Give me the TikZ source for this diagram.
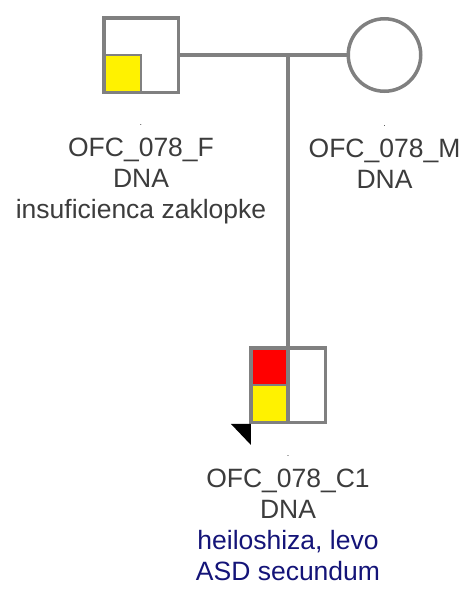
\documentclass[tikz,border=0pt]{standalone}
\usepackage{fontspec}
\setmainfont{Liberation Sans}
\usetikzlibrary{positioning}
\definecolor{pedgray}{RGB}{128,128,128}
\definecolor{txtgray}{RGB}{60,60,60}
\definecolor{dxblue}{RGB}{20,20,120}
\newcommand{\peddot}{{\fontsize{9}{9}\selectfont .}}
\tikzset{
  ped/male/.style={draw=pedgray, line width=3.5pt, rectangle, minimum size=74.5pt, inner sep=0pt, outer sep=0pt},
  ped/female/.style={draw=pedgray, line width=3.5pt, circle, minimum size=72.5pt, inner sep=0pt, outer sep=0pt},
  ped/line/.style={draw=pedgray, line width=3.5pt},
  ped/quad/.style={draw=pedgray, line width=2.5pt},
  ped/label/.style={align=center, inner sep=0pt, text=txtgray, font=\fontsize{26.5}{31}\selectfont}
}

\begin{document}
\begin{tikzpicture}[x=1pt, y=1pt]
\useasboundingbox (0,0) rectangle (467,-592);

% parents
\node[ped/male] (fa) at (141,-55) {};
\node[ped/female, right=170pt of fa] (mo) {};
\fill[yellow] (fa.west) rectangle (fa.south);
\draw[ped/quad] (fa.west) -| (fa.south);
\draw[ped/line] (fa.north west) rectangle (fa.south east);

% child
\node[ped/male] (c1) at (288,-385) {};
\fill[red] (c1.north west) rectangle (c1.center);
\fill[yellow] (c1.west) rectangle (c1.south);
\draw[ped/quad] (c1.west) -- (c1.center);
\draw[ped/line] (c1.north) -- (c1.south);
\draw[ped/line] (c1.north west) rectangle (c1.south east);

% proband arrow
\fill (c1.south west) ++(0,-1.5) -- ++(-20,0) -- ++(20,-21) -- cycle;

% lines of descent
\coordinate (drop) at (c1.north |- fa.east);
\draw[ped/line] (fa.east) -- (mo.west);
\draw[ped/line] (drop) -- (c1.north);

% labels
\node[ped/label, below=32.5pt of fa] (falbl)
  {\peddot\\OFC\_078\_F\\DNA\\insuficienca zaklopke};
\node[ped/label, below=34pt of mo] (molbl)
  {\peddot\\OFC\_078\_M\\DNA};
\node[ped/label, below=33.5pt of c1] (c1lbl)
  {\peddot\\OFC\_078\_C1\\DNA\\{\color{dxblue}heiloshiza, levo}\\{\color{dxblue}ASD secundum}};

\end{tikzpicture}
\end{document}
